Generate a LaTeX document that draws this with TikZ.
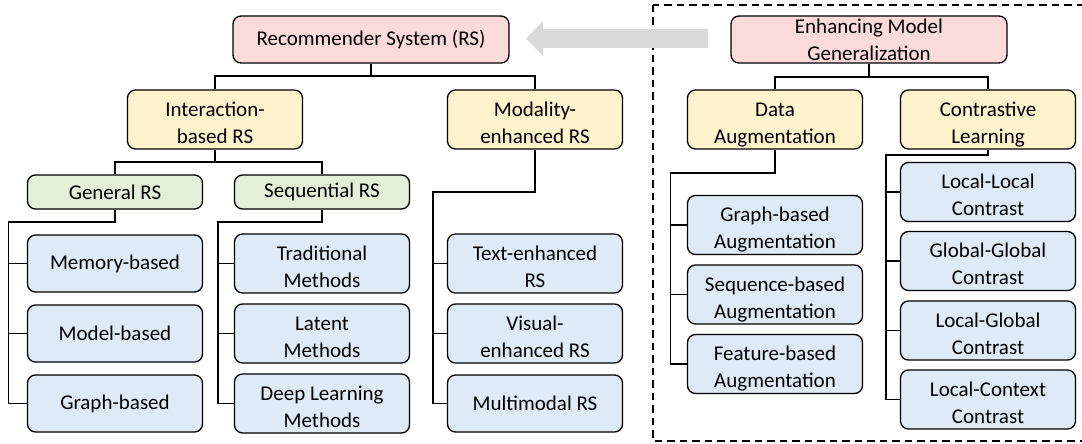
\documentclass[tikz,border=0pt]{standalone}
\usepackage{fontspec}
\setmainfont{Carlito}
\definecolor{rootfill}{HTML}{FADBDA}
\definecolor{midfill}{HTML}{FFF2CC}
\definecolor{subfill}{HTML}{E2EFD9}
\definecolor{leaffill}{HTML}{DEEAF6}
\definecolor{arrowgray}{HTML}{D9D9D9}
% two-line label with fixed struts so both lines sit at the same place in every box
\newcommand{\twolines}[2]{\rule{0pt}{26pt}#1\\#2\rule[-6pt]{0pt}{6pt}}
\begin{document}
\begin{tikzpicture}[x=1pt,y=-1pt,
  box/.style={draw=black, line width=1.3pt, rounded corners=8pt, align=center,
    inner xsep=1pt, inner ysep=0pt, font=\fontsize{21}{27}\selectfont},
  rootbox/.style={box, fill=rootfill, minimum width=276pt, minimum height=47pt},
  midbox/.style={box, fill=midfill, minimum width=175pt, minimum height=57pt},
  subbox/.style={box, fill=subfill, minimum width=175pt, minimum height=34pt},
  leafbox/.style={box, fill=leaffill, minimum width=175pt, minimum height=57pt},
  link/.style={draw=black, line width=1.3pt}]
\useasboundingbox (0,0) rectangle (1082,444);

% dashed frame around the generalization branch
\draw[line width=1.3pt, dash pattern=on 7.5pt off 5pt] (653,5) rectangle (1095,441);

% wide grey arrow pointing to the recommender system
\fill[arrowgray] (526,38.5) -- (543,21) -- (543,29) -- (708,29) -- (708,48) -- (543,48) -- (543,56) -- cycle;

% ---- recommender system tree ----
\node[rootbox] (root) at (371,39.5) {Recommender System (RS)};
\node[midbox] (inter) at (215,119.5) {\twolines{Interaction-}{based RS}};
\node[midbox] (moda) at (535,119.5) {\twolines{Modality-}{enhanced RS}};
\node[subbox] (gen) at (115,192) {General RS};
\node[subbox] (seq) at (322,192) {Sequential RS};

\node[leafbox] (g1) at (115,263.5) {Memory-based};
\node[leafbox] (g2) at (115,333.5) {Model-based};
\node[leafbox] (g3) at (115,403.5) {Graph-based};

\node[leafbox] (s1) at (322,263.5) {\twolines{Traditional}{Methods}};
\node[leafbox] (s2) at (322,333.5) {\twolines{Latent}{Methods}};
\node[leafbox] (s3) at (322,403.5) {\twolines{Deep Learning}{Methods}};

\node[leafbox] (m1) at (535,263.5) {\twolines{Text-enhanced}{RS}};
\node[leafbox] (m2) at (535,333.5) {\twolines{Visual-}{enhanced RS}};
\node[leafbox] (m3) at (535,403.5) {Multimodal RS};

\coordinate (jroot) at (371,76);
\coordinate (jinter) at (215,162);
\coordinate (tgen) at (8.6,222);
\coordinate (tseq) at (218,222);
\coordinate (tmoda) at (433,192);

\draw[link] (root.south) -- (jroot) -| (inter.north);
\draw[link] (jroot) -| (moda.north);
\draw[link] (inter.south) -- (jinter) -| (gen.north);
\draw[link] (jinter) -| (seq.north);

\draw[link] (gen.south) |- (tgen) |- (g3.west);
\draw[link] (tgen |- g1.west) -- (g1.west);
\draw[link] (tgen |- g2.west) -- (g2.west);

\draw[link] (seq.south) |- (tseq) |- (s3.west);
\draw[link] (tseq |- s1.west) -- (s1.west);
\draw[link] (tseq |- s2.west) -- (s2.west);

\draw[link] (moda.south) |- (tmoda) |- (m3.west);
\draw[link] (tmoda |- m1.west) -- (m1.west);
\draw[link] (tmoda |- m2.west) -- (m2.west);

% ---- generalization tree ----
\node[rootbox] (emg) at (869,39.5) {Enhancing Model\\Generalization};
\node[midbox] (aug) at (775,119.5) {\twolines{Data}{Augmentation}};
\node[midbox] (cl) at (988,119.5) {\twolines{Contrastive}{Learning}};

\node[leafbox] (a1) at (775,225) {\twolines{Graph-based}{Augmentation}};
\node[leafbox] (a2) at (775,294.5) {\twolines{Sequence-based}{Augmentation}};
\node[leafbox] (a3) at (775,364) {\twolines{Feature-based}{Augmentation}};

\node[leafbox] (c1) at (988,192) {\twolines{Local-Local}{Contrast}};
\node[leafbox] (c2) at (988,261) {\twolines{Global-Global}{Contrast}};
\node[leafbox] (c3) at (988,330.5) {\twolines{Local-Global}{Contrast}};
\node[leafbox] (c4) at (988,399.5) {\twolines{Local-Context}{Contrast}};

\coordinate (jemg) at (869,77);
\coordinate (taug) at (670.6,173);
\coordinate (tcl) at (886,155);

\draw[link] (emg.south) -- (jemg) -| (aug.north);
\draw[link] (jemg) -| (cl.north);

\draw[link] (aug.south) |- (taug) |- (a3.west);
\draw[link] (taug |- a1.west) -- (a1.west);
\draw[link] (taug |- a2.west) -- (a2.west);

\draw[link] (cl.south) |- (tcl) |- (c4.west);
\draw[link] (tcl |- c1.west) -- (c1.west);
\draw[link] (tcl |- c2.west) -- (c2.west);
\draw[link] (tcl |- c3.west) -- (c3.west);
\end{tikzpicture}
\end{document}
